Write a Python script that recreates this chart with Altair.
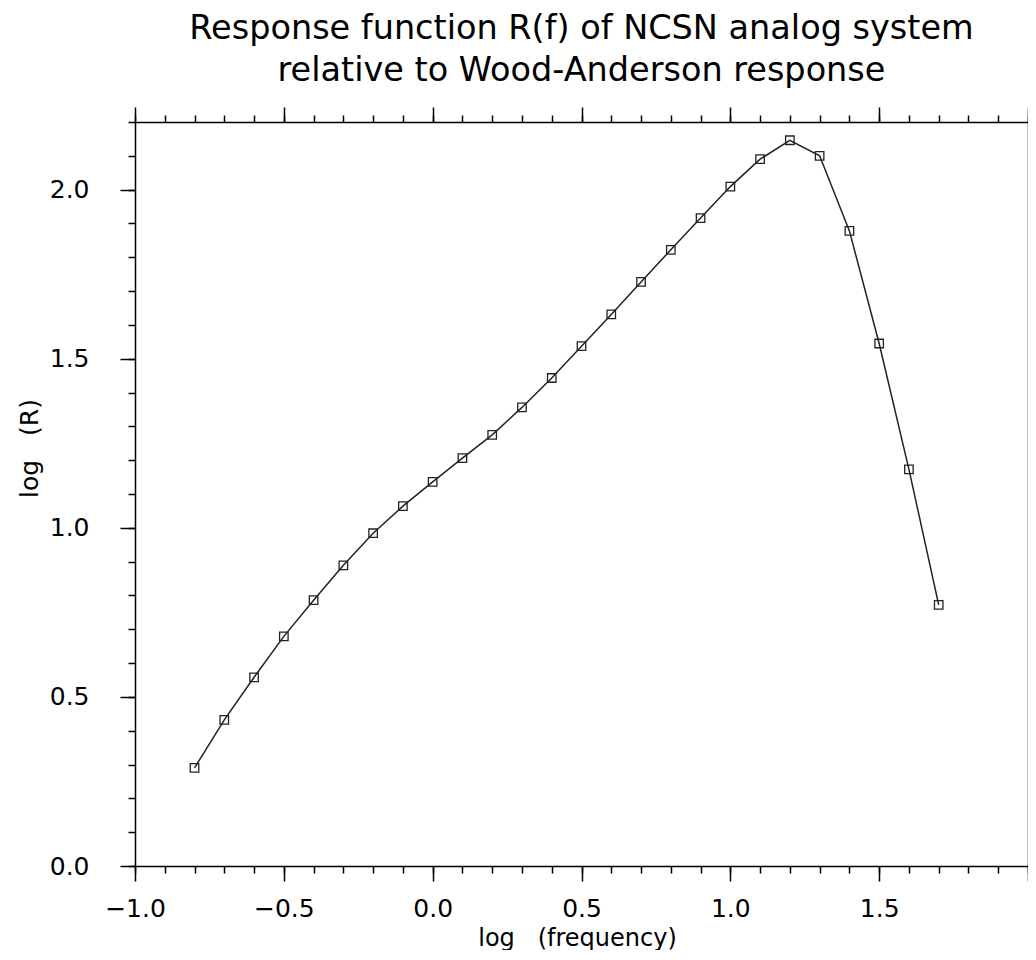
import altair as alt
import pandas as pd

# data
log_f = [-0.8, -0.7, -0.6, -0.5, -0.4, -0.3, -0.2, -0.1, 0.0, 0.1, 0.2, 0.3, 0.4,
         0.5, 0.6, 0.7, 0.8, 0.9, 1.0, 1.1, 1.2, 1.3, 1.4, 1.5, 1.6, 1.7]
log_r = [0.290, 0.432, 0.558, 0.679, 0.786, 0.889, 0.984, 1.064, 1.136, 1.206, 1.275,
         1.356, 1.443, 1.537, 1.631, 1.727, 1.822, 1.916, 2.009, 2.090, 2.146, 2.100,
         1.878, 1.545, 1.173, 0.772]

x_major = [-1.0, -0.5, 0.0, 0.5, 1.0, 1.5, 2.0]
x_minor = [-1.0, -0.9, -0.8, -0.7, -0.6, -0.5, -0.4, -0.3, -0.2, -0.1, 0.0, 0.1, 0.2,
           0.3, 0.4, 0.5, 0.6, 0.7, 0.8, 0.9, 1.0, 1.1, 1.2, 1.3, 1.4, 1.5, 1.6, 1.7,
           1.8, 1.9, 2.0]
y_major = [0.0, 0.5, 1.0, 1.5, 2.0]
y_minor = [0.0, 0.1, 0.2, 0.3, 0.4, 0.5, 0.6, 0.7, 0.8, 0.9, 1.0, 1.1, 1.2, 1.3, 1.4,
           1.5, 1.6, 1.7, 1.8, 1.9, 2.0, 2.1, 2.2]

title_lines = ["Response function R(f) of NCSN analog system",
               "relative to Wood-Anderson response"]
x_title = "log\u00a0\u00a0\u00a0(frequency)"
y_title = "log\u00a0\u00a0\u00a0(R)"

df = pd.DataFrame({"log_f": log_f, "log_r": log_r})

FONT = "DejaVu Sans"

base_axis = dict(
    domainColor="black",
    domainWidth=1.5,
    tickColor="black",
    tickWidth=1.5,
    grid=False,
)


def major_axis(values, orient, label_expr=None, **kw):
    opts = dict(base_axis, values=values, orient=orient, tickSize=15)
    if label_expr:
        opts.update(labelExpr=label_expr, labelFont=FONT, labelFontSize=25,
                    labelColor="black", labelOverlap=False, labelFlush=False)
    else:
        opts.update(labels=False, title=None)
    opts.update(kw)
    return alt.Axis(**opts)


def minor_axis(values, orient):
    return alt.Axis(values=values, orient=orient, tickSize=7, tickColor="black",
                    tickWidth=1.5, domain=False, labels=False, grid=False, title=None)


xs = alt.Scale(domain=[-1.0, 2.0], nice=False, zero=False)
ys = alt.Scale(domain=[0.0, 2.2], nice=False, zero=False)

x_title_style = dict(titleFont=FONT, titleFontSize=24, titleFontWeight="normal",
                     titleColor="black", titleBaseline="alphabetic", titleAlign="center")
y_title_style = dict(x_title_style, titleFontSize=25)

bottom = major_axis(x_major, "bottom",
                    "datum.value < 1.95 ? format(datum.value, '.1f') : ''",
                    labelPadding=15, title=x_title, titleX=442, titleY=79, **x_title_style)
left = major_axis(y_major, "left", "format(datum.value, '.1f')",
                  labelPadding=31, title=y_title, titleX=-98, titleY=326,
                  titleAngle=270, **y_title_style)
top = major_axis(x_major, "top")
right = major_axis(y_major, "right")

line = alt.Chart(df).mark_line(color="#222222", strokeWidth=1.5).encode(
    x=alt.X("log_f:Q", scale=xs, axis=bottom),
    y=alt.Y("log_r:Q", scale=ys, axis=left),
)
pts = alt.Chart(df).mark_point(shape="square", filled=False, color="#222222",
                               size=72, strokeWidth=1.3, opacity=1).encode(
    x=alt.X("log_f:Q", scale=xs, axis=top),
    y=alt.Y("log_r:Q", scale=ys, axis=right),
)
minor_a = alt.Chart(df).mark_point(opacity=0).encode(
    x=alt.X("log_f:Q", scale=xs, axis=minor_axis(x_minor, "bottom")),
    y=alt.Y("log_r:Q", scale=ys, axis=minor_axis(y_minor, "left")),
)
minor_b = alt.Chart(df).mark_point(opacity=0).encode(
    x=alt.X("log_f:Q", scale=xs, axis=minor_axis(x_minor, "top")),
    y=alt.Y("log_r:Q", scale=ys, axis=minor_axis(y_minor, "right")),
)

chart = alt.layer(line, pts, minor_a, minor_b).resolve_axis(
    x="independent", y="independent"
).properties(
    width=893,
    height=744,
    title=alt.TitleParams(text=title_lines, font=FONT, fontSize=33.5, fontWeight="normal",
                          color="black", anchor="middle", lineHeight=42, offset=18),
    autosize=alt.AutoSizeParams(type="none"),
    padding={"left": 127, "top": 114, "right": 0, "bottom": 84},
    background="white",
).configure_view(stroke=None)

chart.save("out.html", embed_options={"renderer": "svg", "actions": False})
